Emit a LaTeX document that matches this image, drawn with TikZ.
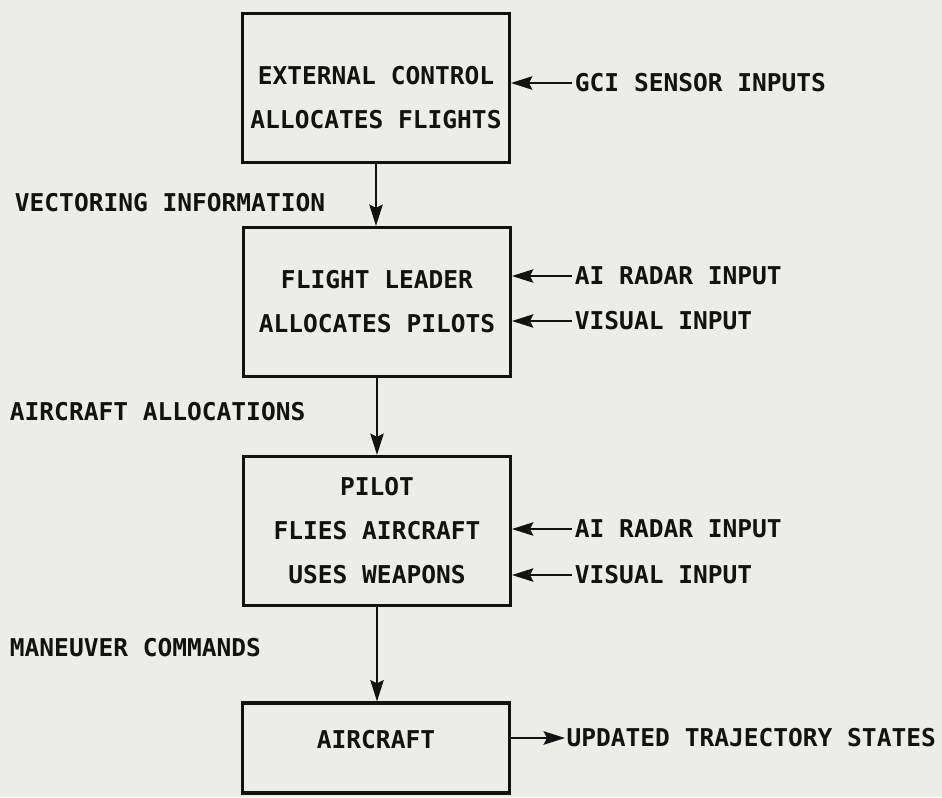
\documentclass[tikz,border=0pt]{standalone}
\usepackage{fontspec}
\setmainfont{DejaVu Sans Mono}
\usepackage{xcolor}
\usepackage{tikz}
\usetikzlibrary{positioning, arrows.meta}
\definecolor{paper}{RGB}{236,236,233}
\definecolor{ink}{RGB}{18,18,18}

\begin{document}
\begin{tikzpicture}[x=0.75pt, y=-0.75pt,
    every node/.style={font=\bfseries\fontsize{18.4}{33}\selectfont, text=ink},
    blk/.style={draw=ink, line width=2.4pt, minimum width=200pt, minimum height=111.75pt, align=center},
    lbl/.style={anchor=west, inner sep=2pt},
    feed/.style={draw=ink, line width=1.8pt, -{Stealth[length=16pt, width=10pt, inset=2.5pt]}}]
    \path[use as bounding box, fill=paper] (0,0) rectangle (942,797);

    % control chain
    \node[blk, text height=60.6pt, text depth=0pt] (ext) at (376,88) {EXTERNAL CONTROL\\ALLOCATES FLIGHTS};
    \node[blk] (lead) at (377,302) {FLIGHT LEADER\\ALLOCATES PILOTS};
    \node[blk] (pilot) at (377,531) {PILOT\\FLIES AIRCRAFT\\USES WEAPONS};
    \node[blk, minimum height=67.5pt, text height=13.4pt, text depth=12pt] (air) at (376,748) {AIRCRAFT};

    % flow labels on the left
    \node[lbl] (vec) at (12,203) {VECTORING INFORMATION};
    \node[lbl] (alloc) at (7,412) {AIRCRAFT ALLOCATIONS};
    \node[lbl] (man) at (7,648) {MANEUVER COMMANDS};

    % inputs on the right
    \node[lbl] (gci) at (572,83) {GCI SENSOR INPUTS};
    \node[lbl] (radar1) at (572,276) {AI RADAR INPUT};
    \node[lbl] (vis1) at (572,321) {VISUAL INPUT};
    \node[lbl] (radar2) at (572,529) {AI RADAR INPUT};
    \node[lbl] (vis2) at (572,575) {VISUAL INPUT};
    \node[lbl, inner sep=1pt] (upd) at (565,738) {UPDATED TRAJECTORY STATES};

    \draw[feed] (ext.south) -- (ext.south |- lead.north);
    \draw[feed] (lead.south) -- (lead.south |- pilot.north);
    \draw[feed] (pilot.south) -- (pilot.south |- air.north);

    \draw[feed] (gci.west) -- (gci.west -| ext.east);
    \draw[feed] (radar1.west) -- (radar1.west -| lead.east);
    \draw[feed] (vis1.west) -- (vis1.west -| lead.east);
    \draw[feed] (radar2.west) -- (radar2.west -| pilot.east);
    \draw[feed] (vis2.west) -- (vis2.west -| pilot.east);
    \draw[feed] (upd.west -| air.east) -- (upd.west);
\end{tikzpicture}
\end{document}
